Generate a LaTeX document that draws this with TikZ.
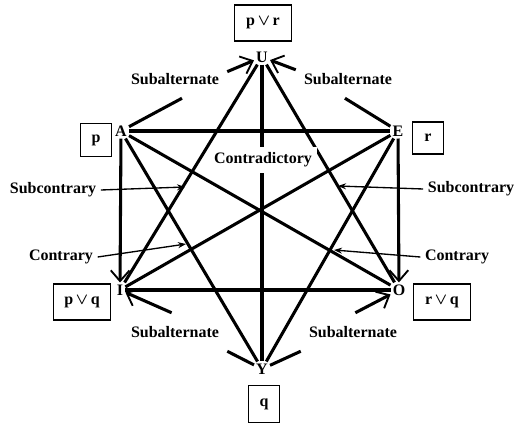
\documentclass[tikz,border=0pt]{standalone}
\usepackage{fontspec}
\setmainfont{Liberation Serif}
\usepackage{tikz}
\usetikzlibrary{arrows.meta}

\begin{document}
\begin{tikzpicture}[x=0.75pt,y=-0.75pt, every node/.style={font=\fontsize{12}{14}\selectfont\bfseries\boldmath}, vtx/.style={inner sep=1.5pt}, prop/.style={draw,line width=1.1pt,inner sep=0pt,minimum height=27pt}, lbl/.style={inner xsep=6pt,inner ysep=10pt}, edge/.style={line width=2.3pt}, subarr/.style={edge,-{Straight Barb[length=8pt,width=14pt,line width=1.4pt]}}, note/.style={line width=1pt,-{Stealth[length=6pt,width=4.5pt]}}]
\useasboundingbox (0,0) rectangle (520,424);
% corners
\node[vtx] (U) at (262,57) {U};
\node[vtx] (A) at (121,131) {A};
\node[vtx] (E) at (398,131) {E};
\node[vtx] (I) at (120,290) {I};
\node[vtx] (O) at (399,290) {O};
\node[vtx] (Y) at (262,369) {Y};
% propositions
\node[prop,minimum width=43pt] (pvr) at (263,23) {p\,$\vee$\,r};
\node[prop,minimum width=23pt,minimum height=25pt] (p) at (96,140) {p};
\node[prop,minimum width=23pt,minimum height=24pt] (r) at (428,138) {r};
\node[prop,minimum width=43pt] (pvq) at (82,302) {p\,$\vee$\,q};
\node[prop,minimum width=43pt] (rvq) at (442,302) {r\,$\vee$\,q};
\node[prop,minimum width=23pt,minimum height=28pt] (q) at (264,404) {q};
% relation labels
\node[lbl] (sal1) at (175,79) {Subalternate};
\node[lbl] (sal2) at (348,79) {Subalternate};
\node[lbl] (sal3) at (175,332) {Subalternate};
\node[lbl] (sal4) at (353,332) {Subalternate};
\node (sc1) at (53,190) {Subcontrary};
\node (sc2) at (471,189) {Subcontrary};
\node (ct1) at (61,257) {Contrary};
\node (ct2) at (457,257) {Contrary};
\coordinate (sc1tip) at (185,187);
\coordinate (sc2tip) at (338,186);
\coordinate (ct1tip) at (186,244);
\coordinate (ct2tip) at (334,250);
% star and square
\draw[edge] (A) -- (E); \draw[edge] (I) -- (O);
\draw[edge] (U) -- (I); \draw[edge] (U) -- (O);
\draw[edge] (A) -- (Y); \draw[edge] (E) -- (Y);
\draw[edge] (A) -- (O); \draw[edge] (E) -- (I);
\draw[edge] (U) -- (Y);
% subalternation
\draw[subarr] (A) -- (I); \draw[subarr] (E) -- (O);
\draw[edge] (A) -- (sal1.-70); \draw[subarr] (sal1.8) -- (U);
\draw[edge] (E) -- (sal2.-99); \draw[subarr] (sal2.170) -- (U);
\draw[edge] (Y) -- (sal3.south east); \draw[subarr] (sal3.100) -- (I);
\draw[edge] (Y) -- (sal4.south west); \draw[subarr] (sal4.83) -- (O);
% pointers
\draw[note] (sc1.east) -- (sc1tip); \draw[note] (ct1.east) -- (ct1tip);
\draw[note] (sc2.west) -- (sc2tip); \draw[note] (ct2.west) -- (ct2tip);
\node[fill=white,inner sep=4pt] (con) at (263,160) {Contradictory};
\end{tikzpicture}
\end{document}
